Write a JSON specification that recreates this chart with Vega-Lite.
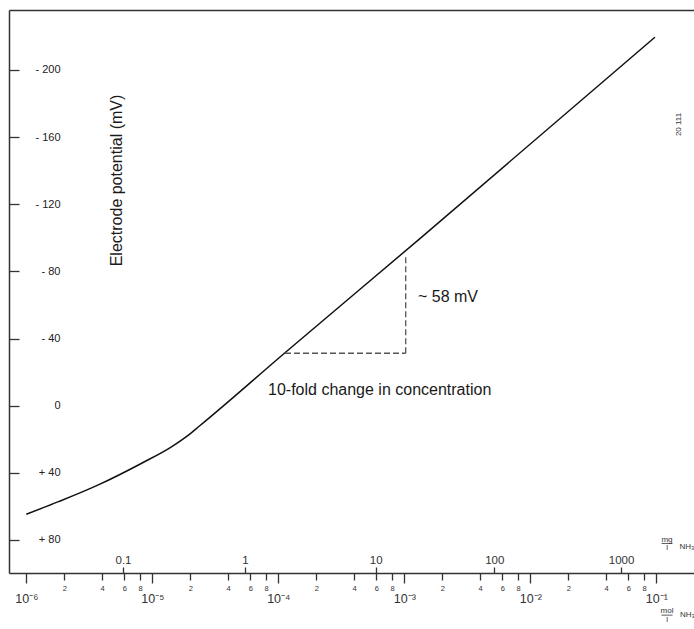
{
  "$schema": "https://vega.github.io/schema/vega-lite/v6.json",
  "width": 685,
  "height": 563,
  "autosize": {"type": "none"},
  "padding": {"left": 9, "top": 10, "right": 0, "bottom": 56},
  "background": "white",
  "config": {"view": {"stroke": null}, "font": "Liberation Sans", "axis": {"grid": false}},
  "datasets": {
    "curve": [
      {"mol": 1.0e-6, "mV": 64.7},
      {"mol": 1.8e-6, "mV": 57.2},
      {"mol": 3.73e-6, "mV": 47.2},
      {"mol": 8.24e-6, "mV": 34.3},
      {"mol": 1.43e-5, "mV": 24.4},
      {"mol": 1.9e-5, "mV": 18.0},
      {"mol": 2.38e-5, "mV": 12.0},
      {"mol": 1.13e-4, "mV": -31.5},
      {"mol": 1.33e-3, "mV": -99.5},
      {"mol": 9.75e-2, "mV": -219.5}
    ],
    "guide": [
      {"x": 1.13e-4, "x2": 1.026e-3, "y": -31.2, "y2": -31.2},
      {"x": 1.026e-3, "x2": 1.026e-3, "y": -31.2, "y2": -89.8}
    ],
    "one": [{}]
  },
  "resolve": {"axis": {"x": "independent", "y": "independent"}},
  "layer": [
    {
      "data": {"name": "curve"},
      "mark": {"type": "line", "interpolate": "monotone", "color": "#111", "strokeWidth": 1.5},
      "encoding": {
        "x": {
          "field": "mol", "type": "quantitative",
          "scale": {"type": "log", "domain": [7.29e-7, 0.1991], "nice": false},
          "axis": {
            "orient": "bottom",
            "values": [1e-6, 2e-6, 4e-6, 6e-6, 8e-6, 1e-5, 2e-5, 4e-5, 6e-5, 8e-5, 1e-4, 2e-4, 4e-4, 6e-4, 8e-4, 1e-3, 2e-3, 4e-3, 6e-3, 8e-3, 1e-2, 2e-2, 4e-2, 6e-2, 8e-2, 1e-1],
            "title": null,
            "domain": true, "domainColor": "#333", "domainWidth": 1.5,
            "tickColor": "#333", "tickWidth": 1.3,
            "tickSize": {"condition": {"test": "abs(log(datum.value)/LN10 - round(log(datum.value)/LN10)) < 0.01", "value": 10}, "value": 7},
            "labelExpr": "abs(log(datum.value)/LN10 - round(log(datum.value)/LN10)) < 0.01 ? '10⁻' + substring('⁰¹²³⁴⁵⁶⁷⁸⁹', -round(log(datum.value)/LN10), -round(log(datum.value)/LN10) + 1) : '' + round(datum.value / pow(10, floor(log(datum.value)/LN10 + 0.000001)))",
            "labelFontSize": {"condition": {"test": "abs(log(datum.value)/LN10 - round(log(datum.value)/LN10)) < 0.01", "value": 12.5}, "value": 7.5},
            "labelPadding": {"condition": {"test": "abs(log(datum.value)/LN10 - round(log(datum.value)/LN10)) < 0.01", "value": 9}, "value": 4},
            "labelColor": "#333",
            "labelFlush": false, "labelOverlap": false, "labelBound": false, "grid": false
          }
        },
        "y": {
          "field": "mV", "type": "quantitative",
          "scale": {"domain": [-235.7, 99.7], "reverse": true, "nice": false, "zero": false},
          "axis": {
            "orient": "left",
            "values": [-200, -160, -120, -80, -40, 0, 40, 80],
            "labelExpr": "datum.value < 0 ? '- ' + (-datum.value) : datum.value > 0 ? '+ ' + datum.value : '0'",
            "domain": true, "domainColor": "#333", "domainWidth": 1.5,
            "tickSize": -10, "tickColor": "#333", "tickWidth": 1.3,
            "labelAlign": "right", "labelBaseline": "middle", "labelPadding": -41, "labelFontSize": 11, "labelColor": "#222",
            "title": "Electrode potential (mV)", "titleFontSize": 16, "titleFontWeight": "normal", "titleColor": "#1a1a1a",
            "titleAngle": 270, "titleX": 107, "titleY": 170, "titleAlign": "center", "titleBaseline": "middle",
            "grid": false, "labelFlush": false, "labelOverlap": false, "labelBound": false
          }
        }
      }
    },
    {
      "data": {"name": "guide"},
      "mark": {"type": "rule", "color": "#555", "strokeWidth": 1.3, "strokeDash": [6, 3]},
      "encoding": {
        "x": {
          "field": "x", "type": "quantitative",
          "scale": {"type": "log", "domain": [7.29e-7, 0.1991], "nice": false},
          "axis": {
            "orient": "top", "offset": -563,
            "values": [5.855e-6, 5.44e-5, 5.93e-4, 5.18e-3, 5.25e-2],
            "labelExpr": "datum.value < 2e-5 ? '0.1' : datum.value < 2e-4 ? '1' : datum.value < 2e-3 ? '10' : datum.value < 2e-2 ? '100' : '1000'",
            "domain": false, "tickSize": 6, "tickColor": "#333", "tickWidth": 1.3,
            "labelFontSize": 11.5, "labelPadding": 2, "labelColor": "#333",
            "title": null, "labelFlush": false, "labelOverlap": false, "grid": false
          }
        },
        "x2": {"field": "x2"},
        "y": {"field": "y", "type": "quantitative", "scale": {"domain": [-235.7, 99.7], "reverse": true, "nice": false, "zero": false}, "axis": null},
        "y2": {"field": "y2"}
      }
    },
    {
      "data": {"name": "one"},
      "mark": {"type": "text", "text": "~ 58 mV", "align": "left", "baseline": "middle", "fontSize": 16, "color": "#1a1a1a"},
      "encoding": {
        "x": {
          "datum": 1.284e-3, "type": "quantitative",
          "scale": {"type": "log", "domain": [7.29e-7, 0.1991], "nice": false},
          "axis": {"orient": "top", "domain": true, "domainColor": "#333", "domainWidth": 1.5, "ticks": false, "labels": false, "title": null, "grid": false}
        },
        "y": {"datum": -64.8, "type": "quantitative", "scale": {"domain": [-235.7, 99.7], "reverse": true, "nice": false, "zero": false}, "axis": null}
      }
    },
    {
      "data": {"name": "one"},
      "mark": {"type": "text", "text": "10-fold change in concentration", "align": "left", "baseline": "middle", "fontSize": 16, "color": "#1a1a1a"},
      "encoding": {
        "x": {"datum": 8.29e-5, "type": "quantitative", "scale": {"type": "log", "domain": [7.29e-7, 0.1991], "nice": false}, "axis": null},
        "y": {"datum": -9.35, "type": "quantitative", "scale": {"domain": [-235.7, 99.7], "reverse": true, "nice": false, "zero": false}, "axis": null}
      }
    },
    {
      "data": {"name": "one"},
      "mark": {"type": "text", "text": "20 111", "align": "center", "baseline": "middle", "fontSize": 8, "angle": 270, "color": "#333"},
      "encoding": {
        "x": {"datum": 0.150, "type": "quantitative", "scale": {"type": "log", "domain": [7.29e-7, 0.1991], "nice": false}, "axis": null},
        "y": {"datum": -167.5, "type": "quantitative", "scale": {"domain": [-235.7, 99.7], "reverse": true, "nice": false, "zero": false}, "axis": null}
      }
    },
    {
      "data": {"name": "one"},
      "mark": {"type": "text", "text": "mg", "align": "center", "baseline": "middle", "fontSize": 8, "color": "#333"},
      "encoding": {
        "x": {"datum": 0.1216, "type": "quantitative", "scale": {"type": "log", "domain": [7.29e-7, 0.1991], "nice": false}, "axis": null},
        "y": {"datum": 80.0, "type": "quantitative", "scale": {"domain": [-235.7, 99.7], "reverse": true, "nice": false, "zero": false}, "axis": null}
      }
    },
    {
      "data": {"name": "one"},
      "mark": {"type": "text", "text": "l", "align": "center", "baseline": "middle", "fontSize": 8, "color": "#333"},
      "encoding": {
        "x": {"datum": 0.1216, "type": "quantitative", "scale": {"type": "log", "domain": [7.29e-7, 0.1991], "nice": false}, "axis": null},
        "y": {"datum": 84.8, "type": "quantitative", "scale": {"domain": [-235.7, 99.7], "reverse": true, "nice": false, "zero": false}, "axis": null}
      }
    },
    {
      "data": {"name": "one"},
      "mark": {"type": "text", "text": "NH₃", "align": "left", "baseline": "middle", "fontSize": 8, "color": "#333"},
      "encoding": {
        "x": {"datum": 0.1528, "type": "quantitative", "scale": {"type": "log", "domain": [7.29e-7, 0.1991], "nice": false}, "axis": null},
        "y": {"datum": 84.2, "type": "quantitative", "scale": {"domain": [-235.7, 99.7], "reverse": true, "nice": false, "zero": false}, "axis": null}
      }
    },
    {
      "data": {"name": "one"},
      "mark": {"type": "rule", "color": "#333", "strokeWidth": 0.8},
      "encoding": {
        "x": {"datum": 0.1100, "type": "quantitative", "scale": {"type": "log", "domain": [7.29e-7, 0.1991], "nice": false}, "axis": null},
        "x2": {"datum": 0.1345},
        "y": {"datum": 82.1, "type": "quantitative", "scale": {"domain": [-235.7, 99.7], "reverse": true, "nice": false, "zero": false}, "axis": null}
      }
    },
    {
      "data": {"name": "one"},
      "mark": {"type": "text", "text": "mol", "align": "center", "baseline": "middle", "fontSize": 8, "color": "#333"},
      "encoding": {
        "x": {"datum": 0.1216, "type": "quantitative", "scale": {"type": "log", "domain": [7.29e-7, 0.1991], "nice": false}, "axis": null},
        "y": {"datum": 122.3, "type": "quantitative", "scale": {"domain": [-235.7, 99.7], "reverse": true, "nice": false, "zero": false}, "axis": null}
      }
    },
    {
      "data": {"name": "one"},
      "mark": {"type": "text", "text": "l", "align": "center", "baseline": "middle", "fontSize": 8, "color": "#333"},
      "encoding": {
        "x": {"datum": 0.1216, "type": "quantitative", "scale": {"type": "log", "domain": [7.29e-7, 0.1991], "nice": false}, "axis": null},
        "y": {"datum": 127.6, "type": "quantitative", "scale": {"domain": [-235.7, 99.7], "reverse": true, "nice": false, "zero": false}, "axis": null}
      }
    },
    {
      "data": {"name": "one"},
      "mark": {"type": "text", "text": "NH₃", "align": "left", "baseline": "middle", "fontSize": 8, "color": "#333"},
      "encoding": {
        "x": {"datum": 0.1542, "type": "quantitative", "scale": {"type": "log", "domain": [7.29e-7, 0.1991], "nice": false}, "axis": null},
        "y": {"datum": 124.8, "type": "quantitative", "scale": {"domain": [-235.7, 99.7], "reverse": true, "nice": false, "zero": false}, "axis": null}
      }
    },
    {
      "data": {"name": "one"},
      "mark": {"type": "rule", "color": "#333", "strokeWidth": 0.8},
      "encoding": {
        "x": {"datum": 0.1100, "type": "quantitative", "scale": {"type": "log", "domain": [7.29e-7, 0.1991], "nice": false}, "axis": null},
        "x2": {"datum": 0.1345},
        "y": {"datum": 124.8, "type": "quantitative", "scale": {"domain": [-235.7, 99.7], "reverse": true, "nice": false, "zero": false}, "axis": null}
      }
    }
  ]
}
